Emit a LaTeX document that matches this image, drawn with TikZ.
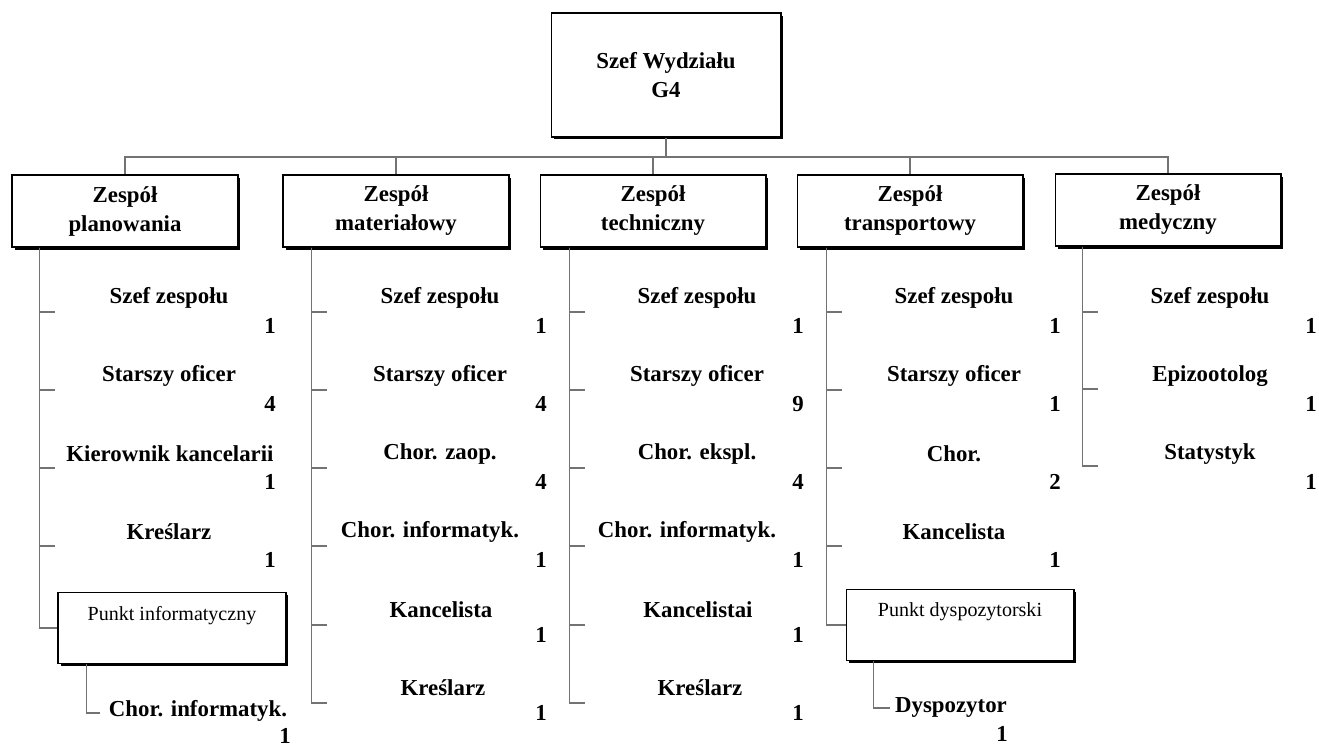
\documentclass[tikz,border=0pt]{standalone}
\usepackage{fontspec}
\setmainfont{Liberation Serif}
\usetikzlibrary{shadows, positioning}

\begin{document}
\begin{tikzpicture}[
    x=0.02cm, y=-0.02cm,
    box/.style={draw, rectangle, fill=white, line width=0.6pt, align=center, minimum width=4.52cm, minimum height=1.44cm, font=\fontsize{13}{16.5}\selectfont\bfseries, drop shadow={shadow xshift=0.05cm, shadow yshift=-0.05cm, fill=black, opacity=1}},
    topbox/.style={box, minimum width=4.6cm, minimum height=2.48cm},
    punkt/.style={box, font=\fontsize{11.4}{14}\selectfont, minimum width=4.56cm, minimum height=1.42cm, text depth=0.6cm},
    post/.style={font=\fontsize{13}{15}\selectfont\bfseries, inner sep=1pt},
    num/.style={font=\fontsize{13}{15}\selectfont\bfseries, inner sep=1pt},
    conn/.style={draw=black!55, line width=0.6pt}
  ]
  \useasboundingbox (0,0) rectangle (1319,748);

  % head and teams
  \node[topbox] (szef) at (666,75) {Szef Wydziału\\G4};
  \node[box] (plan) at (125,211) {Zespół\\planowania};
  \node[box] (mat) at (396,211) {Zespół\\materiałowy};
  \node[box] (tech) at (653,211) {Zespół\\techniczny};
  \node[box] (trans) at (910,211) {Zespół\\transportowy};
  \node[box] (med) at (1168,210) {Zespół\\medyczny};

  \coordinate (bus) at (666,157);
  \draw[conn] (szef) -- (bus);
  \draw[conn] (bus) -| (plan);
  \draw[conn] (bus) -| (mat);
  \draw[conn] (bus) -| (tech);
  \draw[conn] (bus) -| (trans);
  \draw[conn] (bus) -| (med);

  \coordinate (v1) at ([xshift=0.56cm]plan.south west);
  \coordinate (v2) at ([xshift=0.58cm]mat.south west);
  \coordinate (v3) at ([xshift=0.6cm]tech.south west);
  \coordinate (v4) at ([xshift=0.6cm]trans.south west);
  \coordinate (v5) at ([xshift=0.56cm]med.south west);

  % Zespol planowania
  \node[post] (p1a) at (169,298) {Szef zespołu};
  \node[num] (n1a) at (270,326) {1};
  \node[post] (p1b) at (169,376) {Starszy oficer};
  \node[num] (n1b) at (270,404) {4};
  \node[post] (p1c) at (170,454) {Kierownik kancelarii};
  \node[num] (n1c) at (270,482) {1};
  \node[post] (p1d) at (169,532) {Kreślarz};
  \node[num] (n1d) at (270,560) {1};
  \node[punkt] (pinf) at (172,628) {Punkt informatyczny};
  \coordinate (t1a) at (55,312);
  \coordinate (t1b) at (55,390);
  \coordinate (t1c) at (55,468);
  \coordinate (t1d) at (55,546);
  \draw[conn] (v1) |- (t1a);
  \draw[conn] (v1) |- (t1b);
  \draw[conn] (v1) |- (t1c);
  \draw[conn] (v1) |- (t1d);
  \draw[conn] (v1) |- (pinf);
  \coordinate (s1) at ([xshift=0.58cm]pinf.south west);
  \coordinate (t1e) at (100,713);
  \draw[conn] (s1) |- (t1e);
  \node[post] (p1e) at (198,711) {Chor. informatyk.};
  \node[num] (n1e) at (285,736) {1};

  % Zespol materialowy
  \node[post] (p2a) at (440,298) {Szef zespołu};
  \node[num] (n2a) at (541,326) {1};
  \node[post] (p2b) at (440,376) {Starszy oficer};
  \node[num] (n2b) at (541,404) {4};
  \node[post] (p2c) at (440,454) {Chor. zaop.};
  \node[num] (n2c) at (541,482) {4};
  \node[post] (p2d) at (430,532) {Chor. informatyk.};
  \node[num] (n2d) at (541,560) {1};
  \node[post] (p2e) at (441,610) {Kancelista};
  \node[num] (n2e) at (541,635) {1};
  \node[post] (p2f) at (443,688) {Kreślarz};
  \node[num] (n2f) at (541,713) {1};
  \coordinate (t2a) at (327,312);
  \coordinate (t2b) at (327,390);
  \coordinate (t2c) at (327,468);
  \coordinate (t2d) at (327,546);
  \coordinate (t2e) at (327,625);
  \coordinate (t2f) at (327,703);
  \draw[conn] (v2) |- (t2a);
  \draw[conn] (v2) |- (t2b);
  \draw[conn] (v2) |- (t2c);
  \draw[conn] (v2) |- (t2d);
  \draw[conn] (v2) |- (t2e);
  \draw[conn] (v2) |- (t2f);

  % Zespol techniczny
  \node[post] (p3a) at (697,298) {Szef zespołu};
  \node[num] (n3a) at (798,326) {1};
  \node[post] (p3b) at (697,376) {Starszy oficer};
  \node[num] (n3b) at (798,404) {9};
  \node[post] (p3c) at (697,454) {Chor. ekspl.};
  \node[num] (n3c) at (798,482) {4};
  \node[post] (p3d) at (687,532) {Chor. informatyk.};
  \node[num] (n3d) at (798,560) {1};
  \node[post] (p3e) at (698,610) {Kancelistai};
  \node[num] (n3e) at (798,635) {1};
  \node[post] (p3f) at (700,688) {Kreślarz};
  \node[num] (n3f) at (798,713) {1};
  \coordinate (t3a) at (585,312);
  \coordinate (t3b) at (585,390);
  \coordinate (t3c) at (585,468);
  \coordinate (t3d) at (585,546);
  \coordinate (t3e) at (585,625);
  \coordinate (t3f) at (585,703);
  \draw[conn] (v3) |- (t3a);
  \draw[conn] (v3) |- (t3b);
  \draw[conn] (v3) |- (t3c);
  \draw[conn] (v3) |- (t3d);
  \draw[conn] (v3) |- (t3e);
  \draw[conn] (v3) |- (t3f);

  % Zespol transportowy
  \node[post] (p4a) at (954,298) {Szef zespołu};
  \node[num] (n4a) at (1055,326) {1};
  \node[post] (p4b) at (954,376) {Starszy oficer};
  \node[num] (n4b) at (1055,404) {1};
  \node[post] (p4c) at (954,454) {Chor.};
  \node[num] (n4c) at (1055,482) {2};
  \node[post] (p4d) at (954,532) {Kancelista};
  \node[num] (n4d) at (1055,560) {1};
  \node[punkt] (pdys) at (960,625) {Punkt dyspozytorski};
  \coordinate (t4a) at (842,312);
  \coordinate (t4b) at (842,390);
  \coordinate (t4c) at (842,468);
  \coordinate (t4d) at (842,546);
  \draw[conn] (v4) |- (t4a);
  \draw[conn] (v4) |- (t4b);
  \draw[conn] (v4) |- (t4c);
  \draw[conn] (v4) |- (t4d);
  \draw[conn] (v4) |- (pdys);
  \coordinate (s4) at ([xshift=0.56cm]pdys.south west);
  \coordinate (t4e) at (890,708);
  \draw[conn] (s4) |- (t4e);
  \node[post] (p4e) at (951,707) {Dyspozytor};
  \node[num] (n4e) at (1002,734) {1};

  % Zespol medyczny
  \node[post] (p5a) at (1210,298) {Szef zespołu};
  \node[num] (n5a) at (1311,326) {1};
  \node[post] (p5b) at (1210,376) {Epizootolog};
  \node[num] (n5b) at (1311,404) {1};
  \node[post] (p5c) at (1210,454) {Statystyk};
  \node[num] (n5c) at (1311,482) {1};
  \coordinate (t5a) at (1098,312);
  \coordinate (t5b) at (1098,389);
  \coordinate (t5c) at (1098,466);
  \draw[conn] (v5) |- (t5a);
  \draw[conn] (v5) |- (t5b);
  \draw[conn] (v5) |- (t5c);
\end{tikzpicture}
\end{document}
